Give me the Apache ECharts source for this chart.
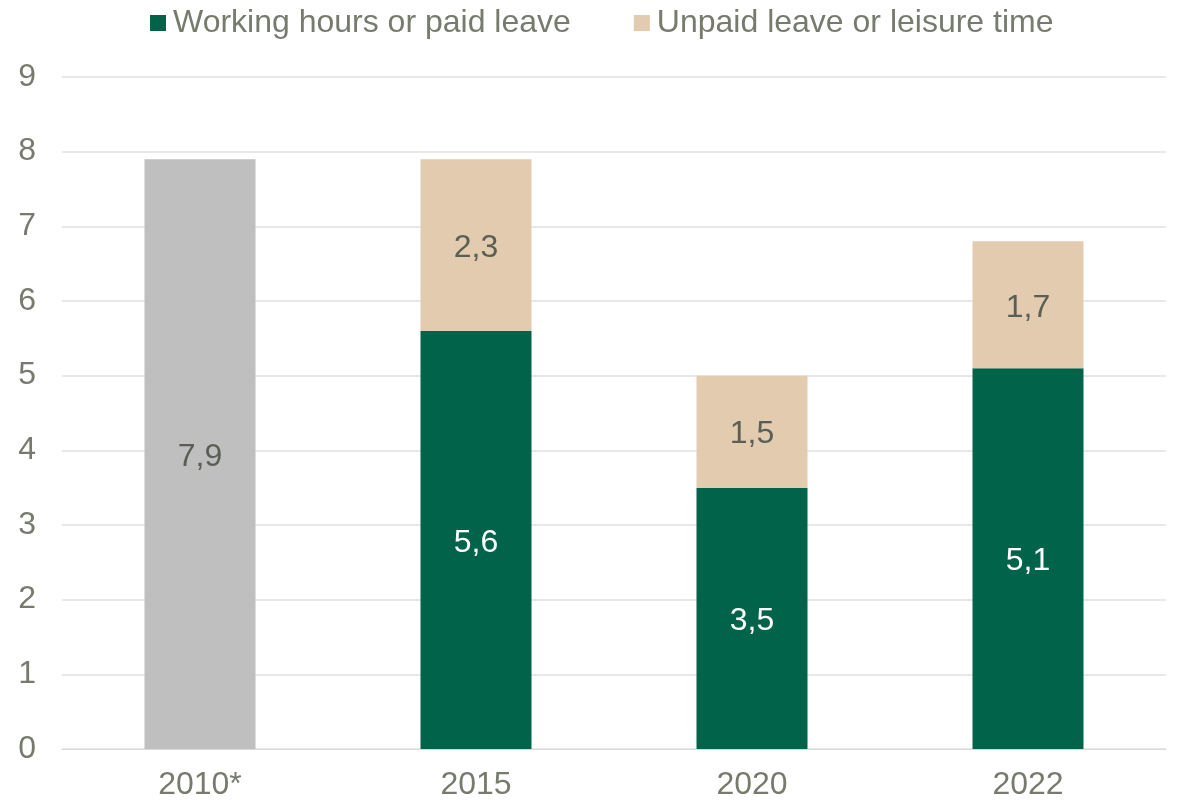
<!DOCTYPE html>
<html>
<head>
<meta charset="utf-8">
<script src="https://cdn.jsdelivr.net/npm/echarts@6/dist/echarts.min.js"></script>
<style>
  html, body { margin: 0; padding: 0; background: #fff; }
  #chart { width: 1178px; height: 803px; }
</style>
</head>
<body>
<div id="chart"></div>
<script>
// 数据
const categories = ["2010*", "2015", "2020", "2022"];
const totalOld = [7.9, "-", "-", "-"];
const paidWork = ["-", 5.6, 3.5, 5.1];
const unpaidLeisure = ["-", 2.3, 1.5, 1.7];

const textColor = "#767b6e";
const fmt = (p) => String(p.value).replace(".", ",");

const chart = echarts.init(document.getElementById("chart"));

chart.setOption({
  animation: false,
  textStyle: { fontFamily: "Liberation Sans, Arial, sans-serif" },
  grid: { left: 62, right: 12, top: 77, bottom: 54 },
  legend: {
    top: 2,
    left: 145,
    data: ["Working hours or paid leave", "Unpaid leave or leisure time"],
    icon: "rect",
    itemWidth: 16,
    itemHeight: 16,
    itemGap: 63,
    textStyle: { color: textColor, fontSize: 32, padding: [0, 0, 0, 2] },
  },
  xAxis: {
    type: "category",
    data: categories,
    axisLine: { show: true, lineStyle: { color: "#d9d9d9", width: 1 } },
    axisTick: { show: false },
    axisLabel: { color: textColor, fontSize: 32, margin: 20 },
  },
  yAxis: {
    type: "value",
    min: 0,
    max: 9,
    interval: 1,
    axisLine: { show: false },
    axisTick: { show: false },
    splitLine: { lineStyle: { color: "#e0e0e0", width: 1.5 } },
    axisLabel: { color: textColor, fontSize: 32, margin: 26 },
  },
  series: [
    {
      name: "2010",
      type: "bar",
      stack: "total",
      barWidth: 111,
      data: totalOld,
      itemStyle: { color: "#bfbfbf" },
      label: { show: true, position: "inside", offset: [0, 3], color: "#5a5f55", fontSize: 32, formatter: fmt },
    },
    {
      name: "Working hours or paid leave",
      type: "bar",
      stack: "total",
      barWidth: 111,
      data: paidWork,
      itemStyle: { color: "#00634a" },
      label: { show: true, position: "inside", offset: [0, 3], color: "#ffffff", fontSize: 32, formatter: fmt },
    },
    {
      name: "Unpaid leave or leisure time",
      type: "bar",
      stack: "total",
      barWidth: 111,
      data: unpaidLeisure,
      itemStyle: { color: "#e3cbb0" },
      label: { show: true, position: "inside", offset: [0, 3], color: "#5a5f55", fontSize: 32, formatter: fmt },
    },
  ],
});
</script>
</body>
</html>
